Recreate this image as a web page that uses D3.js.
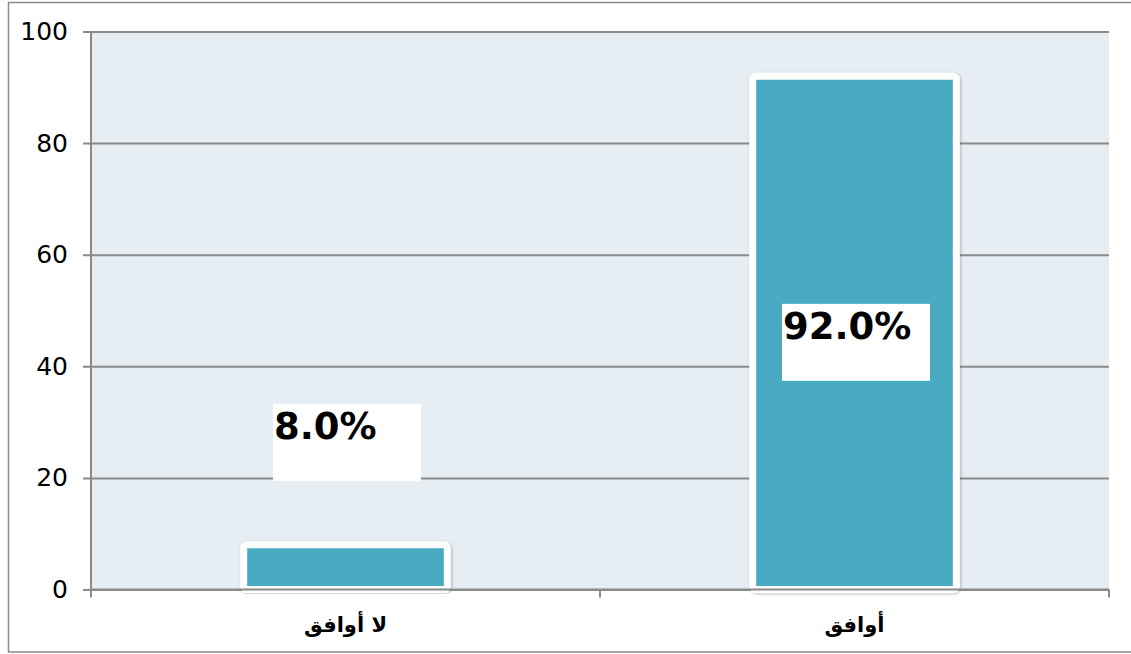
<!DOCTYPE html>
<html><head><meta charset="utf-8">
<script src="https://cdn.jsdelivr.net/npm/d3@7"></script>
<style>html,body{margin:0;padding:0;background:#fff;}svg{display:block;}</style>
</head><body>
<svg id="c" width="1131" height="654"></svg>
<script>
const categories = ["لا أوافق", "أوافق"];
const values = [8.0, 92.0];
const labels = ["8.0%", "92.0%"];
const yTicks = [0, 20, 40, 60, 80, 100];

const svg = d3.select("#c");
const m = {left: 91, right: 1109, top: 31.5, bottom: 589.5};

const defs = svg.append("defs");
const f = defs.append("filter").attr("id","sh").attr("x","-10%").attr("y","-10%").attr("width","120%").attr("height","120%");
f.append("feDropShadow").attr("dx",1).attr("dy",1).attr("stdDeviation",1.5).attr("flood-color","#000").attr("flood-opacity",0.25);

// outer frame
svg.append("rect").attr("x",8.5).attr("y",2.5).attr("width",1130).attr("height",649.5)
  .attr("fill","none").attr("stroke","#8c8c8c").attr("stroke-width",1.5);

const x = d3.scaleBand().domain(categories).range([m.left, m.right]).paddingInner(0).paddingOuter(0);
const y = d3.scaleLinear().domain([0,100]).range([m.bottom, m.top]);

// plot background
svg.append("rect").attr("x",m.left).attr("y",m.top).attr("width",m.right-m.left).attr("height",m.bottom-m.top)
  .attr("fill","#e6edf3");

// y axis with gridlines
const gy = svg.append("g").attr("transform",`translate(${m.left},0)`)
  .call(d3.axisLeft(y).tickValues(yTicks).tickSize(-(m.right-m.left)).tickPadding(23).tickFormat(d3.format("d")));
gy.select(".domain").remove();
gy.selectAll(".tick line").attr("stroke","#8a8a8a").attr("stroke-width",2)
  .attr("x1",-8);
gy.selectAll(".tick text").attr("font-family","DejaVu Sans, sans-serif").attr("font-size",25).attr("fill","#000");

// y axis line
svg.append("line").attr("x1",m.left).attr("x2",m.left).attr("y1",m.top).attr("y2",m.bottom+7)
  .attr("stroke","#8a8a8a").attr("stroke-width",2);

// bars
const bw = x.bandwidth()*0.4;
svg.selectAll("rect.bar").data(values).join("rect").attr("class","bar")
  .attr("x",(d,i)=>x(categories[i])+x.bandwidth()/2-bw/2)
  .attr("y",d=>y(d))
  .attr("width",bw)
  .attr("height",d=>y(0)-y(d))
  .attr("rx",3)
  .attr("fill","#4aaac4").attr("stroke","#fff").attr("stroke-width",7)
  .attr("filter","url(#sh)");

// x axis
const gx = svg.append("g").attr("transform",`translate(0,${m.bottom})`);
gx.append("line").attr("x1",m.left).attr("x2",m.right).attr("stroke","#8a8a8a").attr("stroke-width",2);
const xt = [m.left, ...categories.slice(1).map(c=>x(c)), m.right];
gx.selectAll("line.t").data(xt).join("line").attr("class","t")
  .attr("x1",d=>d).attr("x2",d=>d).attr("y1",0).attr("y2",8).attr("stroke","#8a8a8a").attr("stroke-width",2);
gx.selectAll("text").data(categories).join("text")
  .attr("x",d=>x(d)+x.bandwidth()/2).attr("y",42)
  .attr("text-anchor","middle").attr("direction","rtl")
  .attr("font-family","DejaVu Sans, sans-serif").attr("font-weight","bold").attr("font-size",21)
  .attr("fill","#000").text(d=>d);

// data labels
const boxW = 148, boxH = 77;
const lg = svg.selectAll("g.lab").data(values).join("g").attr("class","lab")
  .attr("transform",(d,i)=>{
    const cx = x(categories[i])+x.bandwidth()/2;
    const top = d < 50 ? y(d) - 141 : y(d/2) - 29;
    return `translate(${cx-72.5},${top})`;
  });
lg.append("rect").attr("width",boxW).attr("height",boxH).attr("fill","#fff");
lg.append("text").attr("x",1).attr("y",35)
  .attr("font-family","DejaVu Sans, sans-serif").attr("font-weight","bold").attr("font-size",37)
  .attr("fill","#000").text((d,i)=>labels[i]);
</script>
</body></html>
